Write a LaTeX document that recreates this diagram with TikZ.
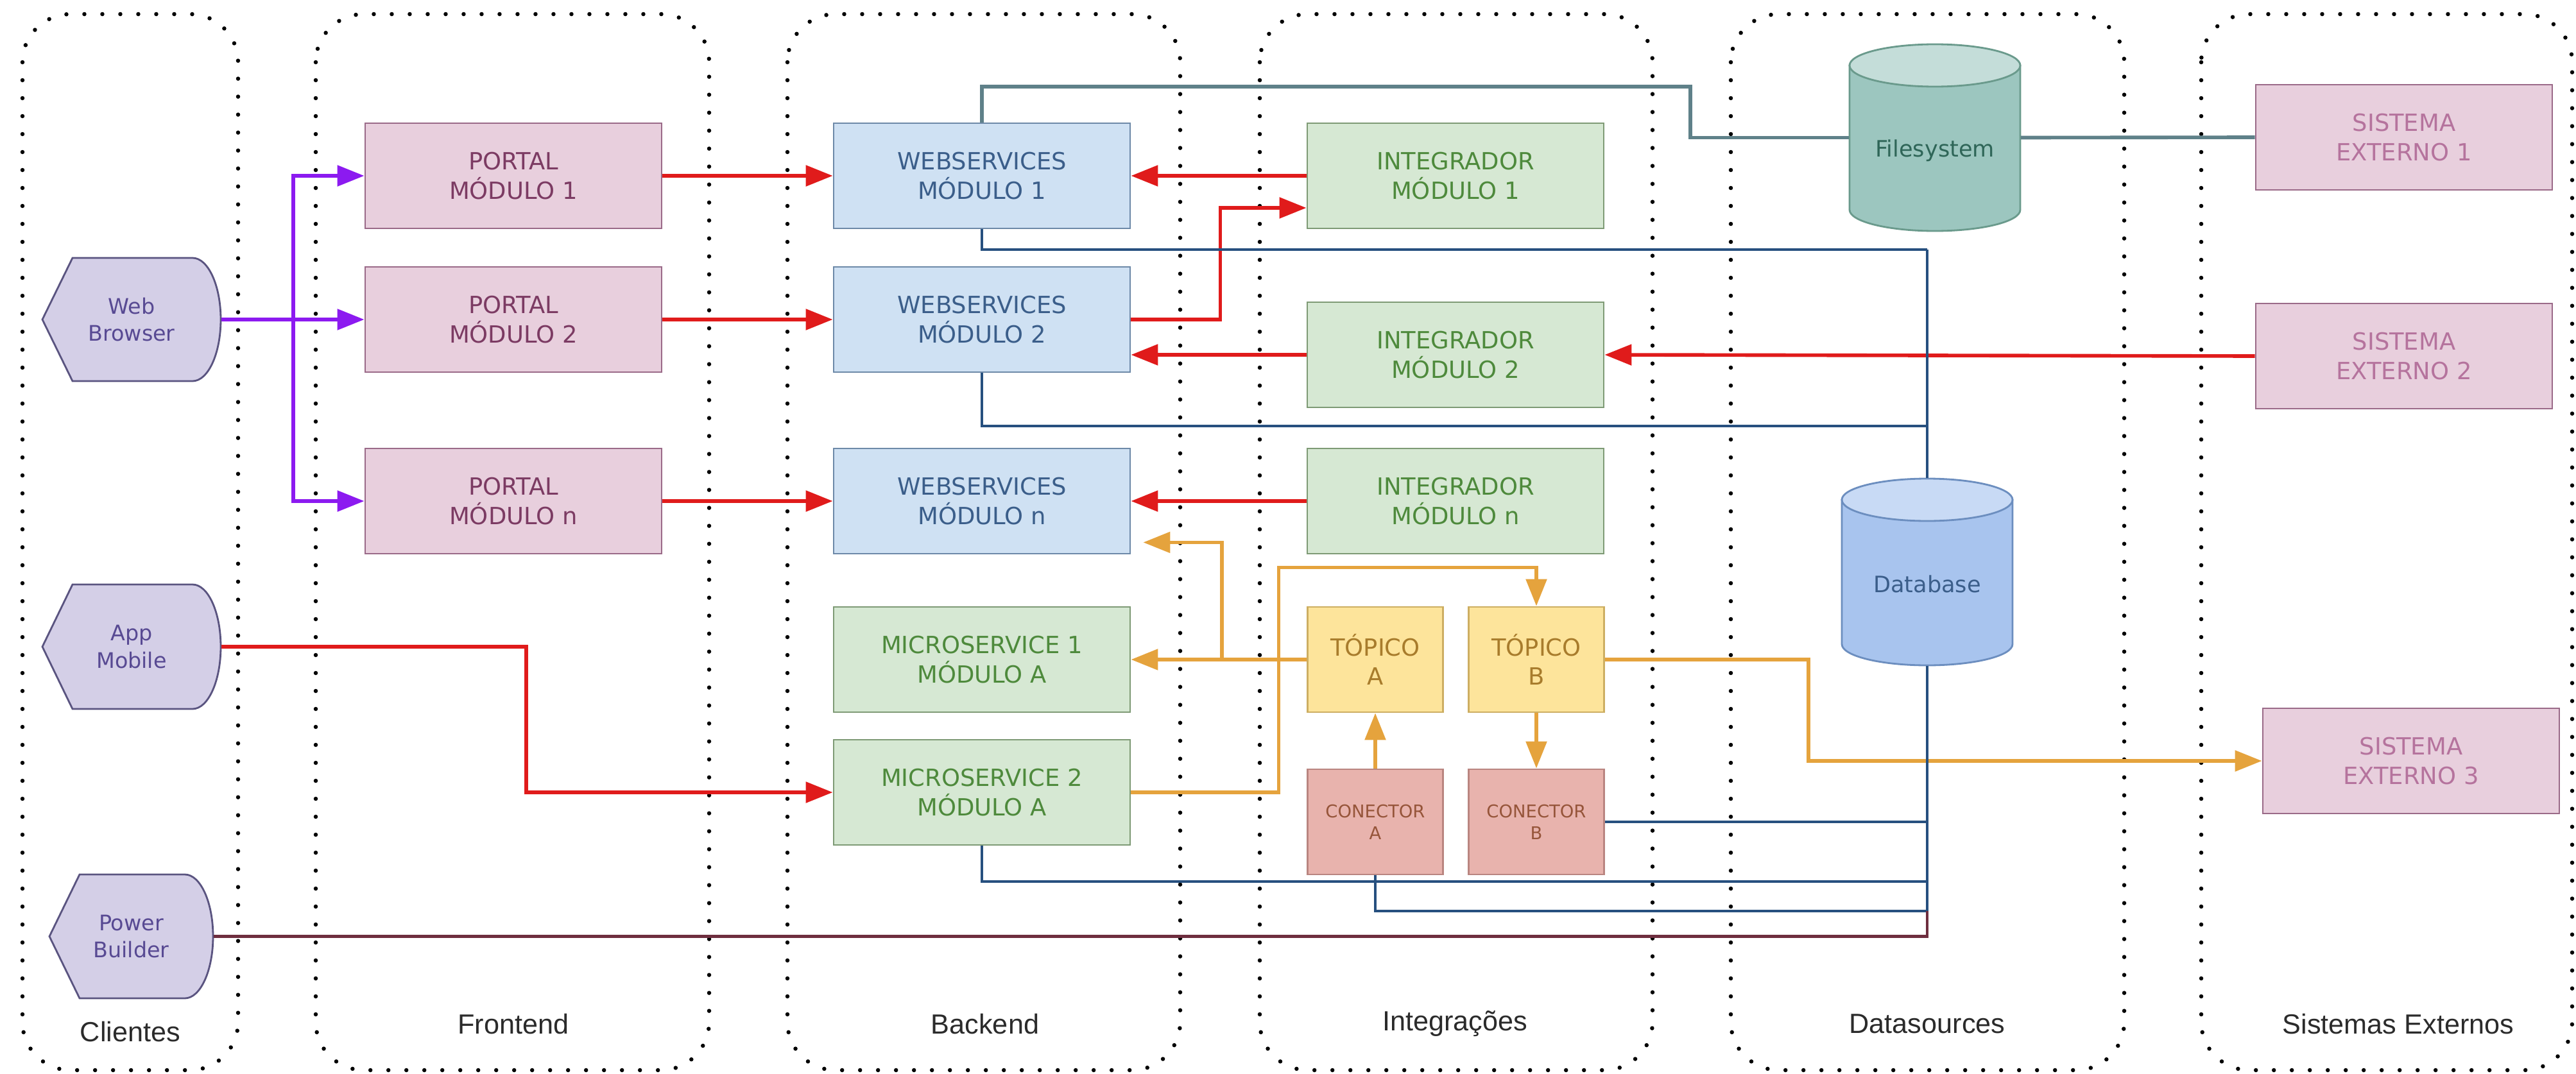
\documentclass[tikz,border=0pt]{standalone}
\usepackage{fontspec}
\setmainfont{DejaVu Sans}
\newfontfamily\lanefont{Liberation Sans}
\usetikzlibrary{arrows.meta,calc}

\definecolor{clifill}{HTML}{D4CFE7}
\definecolor{clistroke}{HTML}{5A5480}
\definecolor{clitxt}{HTML}{584A93}
\definecolor{pinkfill}{HTML}{E8CFDD}
\definecolor{pinkstroke}{HTML}{9A6A88}
\definecolor{portaltxt}{HTML}{7C3B63}
\definecolor{exttxt}{HTML}{B5739D}
\definecolor{wsfill}{HTML}{CFE1F3}
\definecolor{wsstroke}{HTML}{6D89A8}
\definecolor{wstxt}{HTML}{3B5E8A}
\definecolor{greenfill}{HTML}{D6E8D3}
\definecolor{greenstroke}{HTML}{7E9A75}
\definecolor{greentxt}{HTML}{4E8A3C}
\definecolor{topfill}{HTML}{FDE49B}
\definecolor{topstroke}{HTML}{CDAE62}
\definecolor{toptxt}{HTML}{A87C2C}
\definecolor{confill}{HTML}{E8B3AD}
\definecolor{constroke}{HTML}{B98580}
\definecolor{contxt}{HTML}{96553A}
\definecolor{fsfill}{HTML}{9CC6BF}
\definecolor{fstopfill}{HTML}{C4DDD9}
\definecolor{fsstroke}{HTML}{6A9A8C}
\definecolor{fstxt}{HTML}{2F6658}
\definecolor{dbfill}{HTML}{A8C4EE}
\definecolor{dbtopfill}{HTML}{C8DAF5}
\definecolor{dbstroke}{HTML}{6C8EBF}
\definecolor{redflow}{HTML}{E01B1B}
\definecolor{purpleflow}{HTML}{8C1AF0}
\definecolor{orangeflow}{HTML}{E5A33D}
\definecolor{tealflow}{HTML}{5F8189}
\definecolor{blueflow}{HTML}{27507F}
\definecolor{maroonflow}{HTML}{6E2E3F}
\definecolor{lanetxt}{HTML}{2B2B2B}

\tikzset{
  lane/.style={draw=black, line width=0.065cm, line cap=round, dash pattern=on 0pt off 0.28cm, rounded corners=0.75cm},
  lanelabel/.style={font=\lanefont\fontsize{12.3}{14}\selectfont, text=lanetxt},
  box/.style={draw, line width=0.8pt, minimum width=4.62cm, minimum height=1.64cm, inner sep=0pt, align=center, font=\fontsize{10.5}{13}\selectfont},
  portal/.style={box, fill=pinkfill, draw=pinkstroke, text=portaltxt},
  extsys/.style={box, fill=pinkfill, draw=pinkstroke, text=exttxt},
  ws/.style={box, fill=wsfill, draw=wsstroke, text=wstxt},
  integ/.style={box, fill=greenfill, draw=greenstroke, text=greentxt},
  topic/.style={box, minimum width=2.11cm, fill=topfill, draw=topstroke, text=toptxt},
  conn/.style={box, minimum width=2.11cm, fill=confill, draw=constroke, text=contxt, font=\fontsize{7.8}{9.7}\selectfont},
  client/.style={minimum width=2.78cm, minimum height=1.92cm, inner sep=0pt, align=center, text=clitxt, font=\fontsize{9.5}{12}\selectfont},
  clientbody/.style={draw=clistroke, fill=clifill, line width=0.8pt},
  store/.style={minimum width=2.67cm, minimum height=2.91cm, inner sep=0pt, font=\fontsize{10}{12}\selectfont},
  arrowtip/.style={-{Triangle[length=0.42cm,width=0.32cm]}},
  wire/.style={line width=1.6pt},
  redarrow/.style={wire, arrowtip, draw=redflow},
  webarrow/.style={wire, arrowtip, draw=purpleflow},
  msgarrow/.style={wire, arrowtip, draw=orangeflow},
  fsline/.style={wire, draw=tealflow},
  dbline/.style={line width=1.4pt, draw=blueflow},
  dbtrunk/.style={line width=1.1pt, draw=blueflow},
  pbline/.style={line width=1.4pt, draw=maroonflow}
}

% client shape: left x, right x, centre y, half height
\newcommand{\clientbody}[4]{%
  \draw[clientbody] (#1,#3) -- ({#1+0.47},{#3-#4}) -- ({#2-0.44},{#3-#4})
    arc[start angle=90, end angle=-90, x radius=0.44cm, y radius=#4 cm]
    -- ({#1+0.47},{#3+#4}) -- cycle;}
% cylinder: centre x, top y, bottom y, body, top, stroke
\newcommand{\storebody}[6]{%
  \draw[draw=#6, fill=#4, line width=0.8pt] ({#1-1.33},{#2+0.33}) -- ({#1-1.33},{#3-0.33})
    arc[start angle=180, end angle=360, x radius=1.33cm, y radius=0.33cm]
    -- ({#1+1.33},{#2+0.33}) -- cycle;
  \draw[draw=#6, fill=#5, line width=0.8pt] (#1,{#2+0.33}) ellipse[x radius=1.33cm, y radius=0.33cm];}

\begin{document}
\begin{tikzpicture}[x=1cm, y=-1cm]
  \useasboundingbox (0,0) rectangle (40.14,16.74);

  % swimlanes
  \draw[lane] (0.35,0.22) rectangle (3.71,16.68);
  \draw[lane] (4.92,0.22) rectangle (11.05,16.68);
  \draw[lane] (12.27,0.22) rectangle (18.39,16.68);
  \draw[lane] (19.63,0.22) rectangle (25.75,16.68);
  \draw[lane] (26.97,0.22) rectangle (33.10,16.68);
  \draw[lane] (34.30,0.22) rectangle (40.08,16.68);
  \node[lanelabel] (lcli) at (2.03,16.08) {Clientes};
  \node[lanelabel] (lfront) at (8.00,15.96) {Frontend};
  \node[lanelabel] (lback) at (15.35,15.96) {Backend};
  \node[lanelabel] (linteg) at (22.67,15.96) {Integrações};
  \node[lanelabel] (ldata) at (30.03,15.96) {Datasources};
  \node[lanelabel] (lext) at (37.37,15.96) {Sistemas Externos};

  % clientes
  \clientbody{0.66}{3.44}{4.98}{0.96}
  \clientbody{0.66}{3.44}{10.08}{0.97}
  \clientbody{0.77}{3.32}{14.595}{0.965}
  \node[client] (web) at (2.05,4.98) {Web\\Browser};
  \node[client] (app) at (2.05,10.08) {App\\Mobile};
  \node[client, minimum width=2.55cm] (pb) at (2.045,14.595) {Power\\Builder};

  % frontend
  \node[portal] (pt1) at (8.00,2.74) {PORTAL\\MÓDULO 1};
  \node[portal] (pt2) at (8.00,4.98) {PORTAL\\MÓDULO 2};
  \node[portal] (ptn) at (8.00,7.81) {PORTAL\\MÓDULO n};

  % backend
  \node[ws] (ws1) at (15.30,2.74) {WEBSERVICES\\MÓDULO 1};
  \node[ws] (ws2) at (15.30,4.98) {WEBSERVICES\\MÓDULO 2};
  \node[ws] (wsn) at (15.30,7.81) {WEBSERVICES\\MÓDULO n};
  \node[integ] (ms1) at (15.30,10.28) {MICROSERVICE 1\\MÓDULO A};
  \node[integ] (ms2) at (15.30,12.35) {MICROSERVICE 2\\MÓDULO A};

  % integracoes
  \node[integ] (int1) at (22.68,2.74) {INTEGRADOR\\MÓDULO 1};
  \node[integ] (int2) at (22.68,5.53) {INTEGRADOR\\MÓDULO 2};
  \node[integ] (intn) at (22.68,7.81) {INTEGRADOR\\MÓDULO n};
  \node[topic] (topa) at (21.43,10.28) {TÓPICO\\A};
  \node[topic] (topb) at (23.94,10.28) {TÓPICO\\B};
  \node[conn] (cona) at (21.43,12.81) {CONECTOR\\A};
  \node[conn] (conb) at (23.94,12.81) {CONECTOR\\B};

  % datasources
  \storebody{30.15}{0.69}{3.60}{fsfill}{fstopfill}{fsstroke}
  \storebody{30.03}{7.46}{10.37}{dbfill}{dbtopfill}{dbstroke}
  \node[store, text=fstxt] (fs) at (30.15,2.145) {\raisebox{-0.30cm}[0pt][0pt]{Filesystem}};
  \node[store, text=wstxt] (db) at (30.03,8.915) {\raisebox{-0.32cm}[0pt][0pt]{Database}};

  % sistemas externos
  \node[extsys] (se1) at (37.46,2.14) {SISTEMA\\EXTERNO 1};
  \node[extsys] (se2) at (37.46,5.55) {SISTEMA\\EXTERNO 2};
  \node[extsys] (se3) at (37.57,11.86) {SISTEMA\\EXTERNO 3};

  % web browser to portals
  \draw[webarrow] (web.east) -- (pt2.west);
  \draw[webarrow] (web.east) -- ++(1.12,0) |- (pt1.west);
  \draw[webarrow] (web.east) -- ++(1.12,0) |- (ptn.west);

  % http calls
  \draw[redarrow] (pt1.east) -- (ws1.west);
  \draw[redarrow] (pt2.east) -- (ws2.west);
  \draw[redarrow] (ptn.east) -- (wsn.west);
  \draw[redarrow] (int1.west) -- (ws1.east);
  \draw[redarrow] (ws2.east) -- ++(1.39,0) |- ($(int1.west)+(0,0.5)$);
  \draw[redarrow] (int2.west) -- (ws2.east |- int2.west);
  \draw[redarrow] (se2.west) -- (int2.east);
  \draw[redarrow] (intn.west) -- (wsn.east);
  \draw[redarrow] (app.east) -- ++(4.75,0) |- (ms2.west);

  % mensageria
  \coordinate (wsnin) at ($(wsn.south east)+(0.19,-0.19)$);
  \draw[msgarrow] (topa.west) -- (ms1.east);
  \draw[msgarrow] (topa.west) -- ++(-1.32,0) |- (wsnin);
  \draw[msgarrow] (ms2.east) -- ++(2.30,0) |- ($(topb.north)+(0,-0.6)$) -- (topb.north);
  \draw[msgarrow] (cona.north) -- (topa.south);
  \draw[msgarrow] (topb.south) -- (conb.north);
  \draw[msgarrow] (topb.east) -- ++(3.17,0) |- (se3.west);

  % filesystem
  \coordinate (fsbend) at (26.34,1.35);
  \draw[fsline] (ws1.north) |- (fsbend) |- (fs.west);
  \draw[fsline] (fs.east) -- (se1.west);

  % database
  \coordinate (bus1) at (30.03,3.89);
  \coordinate (bus2) at (30.03,6.64);
  \coordinate (bus3) at (30.03,12.81);
  \coordinate (bus4) at (30.03,13.74);
  \coordinate (bus5) at (30.03,14.20);
  \draw[dbline] (ws1.south) |- (bus1);
  \draw[dbtrunk] (bus1) -- (db.north);
  \draw[dbline] (ws2.south) |- (bus2);
  \draw[dbline] (conb.east) -- (bus3);
  \draw[dbline] (ms2.south) |- (bus4);
  \draw[dbline] (cona.south) |- (bus5);
  \draw[dbtrunk] (db.south) -- (bus5);
  \draw[pbline] (pb.east) -| (bus5);
\end{tikzpicture}
\end{document}
